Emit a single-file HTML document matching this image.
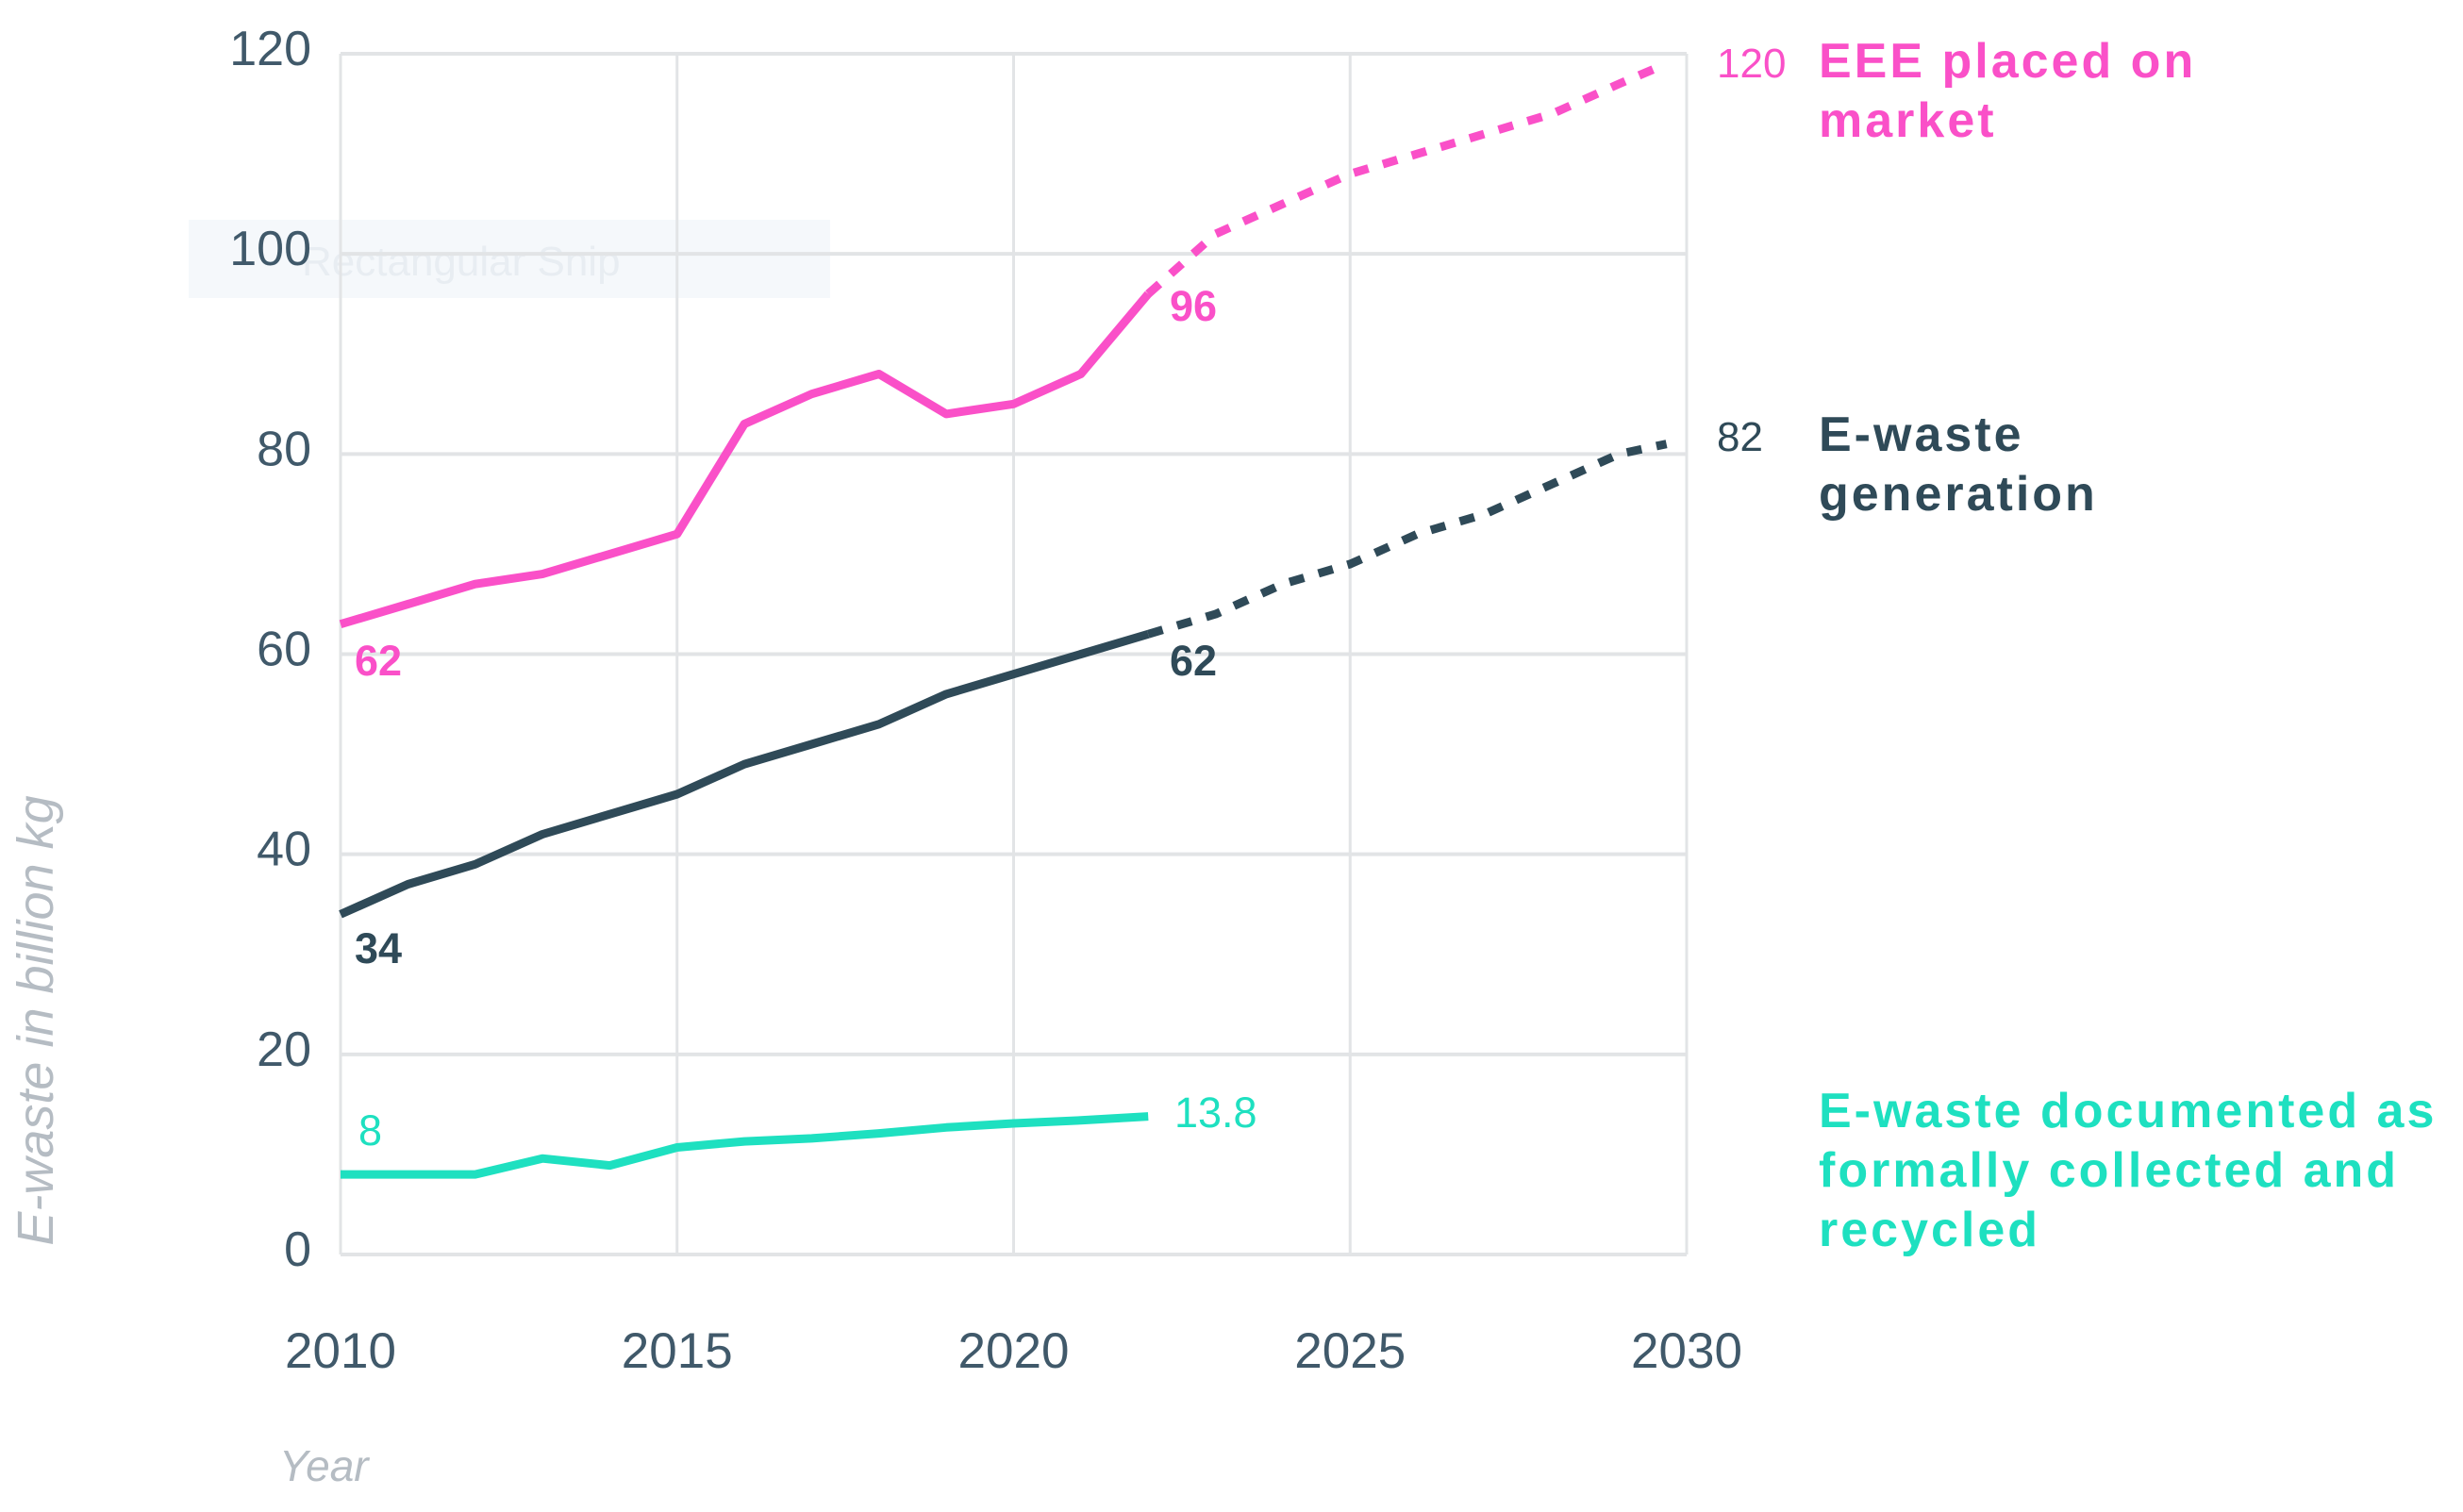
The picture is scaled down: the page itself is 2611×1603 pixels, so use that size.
<!DOCTYPE html>
<html><head><meta charset="utf-8"><style>
html,body{margin:0;padding:0;background:#fff;}
svg{display:block;font-family:"Liberation Sans",sans-serif;}
</style></head><body>
<svg id="chart" width="2611" height="1603" viewBox="0 0 2611 1603">
<rect x="200" y="233" width="680" height="83" fill="#f5f8fb"/>
<text x="320" y="292" font-size="44" fill="#e8edf2">Rectangular Snip</text>
<g id="grid"></g>
<g id="series"></g>
<g id="labels"></g>
<text x="0" y="0" transform="translate(56,1082) rotate(-90)" text-anchor="middle" font-size="54" font-style="italic" fill="#b5bcc3">E-waste in billion kg</text>
<text x="296" y="1570" font-size="46" font-style="italic" fill="#b5bcc3">Year</text>
</svg>
<script>
const yTicks=[0,20,40,60,80,100,120];
const xTicks=[2010,2015,2020,2025,2030];
const eeeYears=[2010,2011,2012,2013,2014,2015,2016,2017,2018,2019,2020,2021,2022];
const eeeValues=[63,65,67,68,70,72,83,86,88,84,85,88,96];
const eeeProjYears=[2022,2023,2024,2025,2026,2027,2028,2029,2029.7];
const eeeProjValues=[96,102,105,108,110,112,114,117,119];
const genYears=[2010,2011,2012,2013,2014,2015,2016,2017,2018,2019,2020,2021,2022];
const genValues=[34,37,39,42,44,46,49,51,53,56,58,60,62];
const genProjYears=[2022,2023,2024,2025,2026,2027,2028,2029,2029.7];
const genProjValues=[62,64,67,69,72,74,77,80,81];
const recYears=[2010,2011,2012,2013,2014,2015,2016,2017,2018,2019,2020,2021,2022];
const recValues=[8,8,8,9.6,8.9,10.7,11.3,11.6,12.1,12.7,13.1,13.4,13.8];

const NS="http://www.w3.org/2000/svg";
const X0=361,X1=1788,Y0=1330,Y1=57;
function xs(v){return X0+(v-2010)/20*(X1-X0);}
function ys(v){return Y0-v/120*(Y0-Y1);}
function mk(tag,attrs,parent){const e=document.createElementNS(NS,tag);for(const k in attrs)e.setAttribute(k,attrs[k]);parent.appendChild(e);return e;}
const grid=document.getElementById('grid'),ser=document.getElementById('series'),lab=document.getElementById('labels');
yTicks.forEach(t=>{
  const l=mk('line',{x1:X0,x2:X1,y1:ys(t),y2:ys(t),stroke:'#e2e4e6','stroke-width':4},grid);
  
  
  const tx=mk('text',{x:330,y:ys(t)+12,'text-anchor':'end','font-size':52,fill:'#40596a'},grid);
  tx.textContent=t;
  
  
});
xTicks.forEach(t=>{
  const l=mk('line',{x1:xs(t),x2:xs(t),y1:Y1,y2:Y0,stroke:'#e2e4e6','stroke-width':3},grid);
  
  
  const tx=mk('text',{x:xs(t),y:1450,'text-anchor':'middle','font-size':53,fill:'#40596a'},grid);
  tx.textContent=t;
  
  
});
function line(xsA,vs,color,dash,name){
  const d=xsA.map((x,i)=>(i?'L':'M')+xs(x).toFixed(1)+','+ys(vs[i]).toFixed(1)).join(' ');
  const p=mk('path',{d:d,fill:'none',stroke:color,'stroke-width':9,'stroke-linejoin':'round'},ser);
  if(dash)p.setAttribute('stroke-dasharray','16 16');
  
  
}
const PINK='#fa50c8',DARK='#2f4a58',TEAL='#1ee0c0';
line(eeeYears,eeeValues,PINK,false,'eee-line');
line(eeeProjYears,eeeProjValues,PINK,true,'eee-projection-line');
line(genYears,genValues,DARK,false,'generation-line');
line(genProjYears,genProjValues,DARK,true,'generation-projection-line');
line(recYears,recValues,TEAL,false,'recycled-line');
function txt(x,y,s,color,size,weight,name,ls){
  const t=mk('text',{x:x,y:y,'font-size':size,'font-weight':weight,fill:color},lab);
  if(ls)t.setAttribute('letter-spacing',ls);
  t.textContent=s;
  
  
}
txt(376,716,'62',PINK,45,'bold','eee-start-label');
txt(1240,340,'96',PINK,45,'bold','eee-2022-label');
txt(1240,716,'62',DARK,45,'bold','generation-2022-label');
txt(376,1021,'34',DARK,45,'bold','generation-start-label');
txt(380,1214,'8',TEAL,45,'normal','recycled-start-label');
txt(1245,1195,'13.8',TEAL,45,'normal','recycled-2022-label');
txt(1820,82,'120',PINK,44,'normal','eee-2030-label');
txt(1928,82,'EEE placed on',PINK,52,'bold','legend-eee',3);
txt(1928,145,'market',PINK,52,'bold','legend-eee-line2',3);
txt(1820,478,'82',DARK,44,'normal','generation-2030-label');
txt(1928,478,'E-waste',DARK,52,'bold','legend-generation',3);
txt(1928,541,'generation',DARK,52,'bold','legend-generation-line2',3);
txt(1928,1195,'E-waste documented as',TEAL,52,'bold','legend-recycled',3);
txt(1928,1258,'formally collected and',TEAL,52,'bold','legend-recycled-line2',3);
txt(1928,1321,'recycled',TEAL,52,'bold','legend-recycled-line3',3);
</script>
</body></html>
